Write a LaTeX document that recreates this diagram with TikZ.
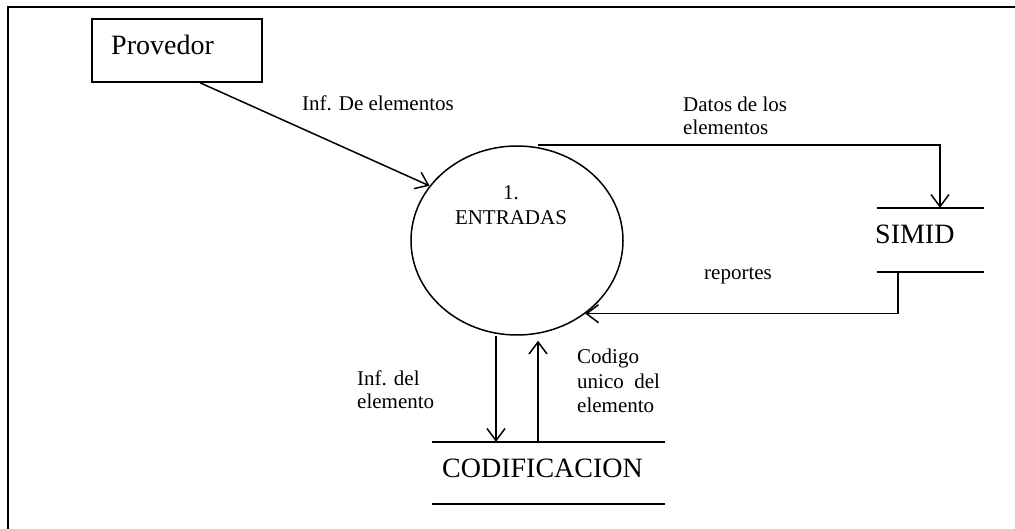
\documentclass[tikz,border=0pt]{standalone}
\usepackage{fontspec}
\setmainfont{Liberation Serif}
\usetikzlibrary{arrows.meta,shapes.geometric}

\newcommand{\varrx}{106}
\newcommand{\varry}{94.5}
\newcommand{\varlw}{1.5pt}

\tikzset{
	flujo/.style={line width=\varlw, -{Straight Barb[length=12pt,width=18pt]}},
	linea/.style={line width=\varlw},
	txt/.style={inner sep=0pt, align=left, font=\fontsize{21}{22.5}\selectfont},
	big/.style={inner sep=0pt, font=\fontsize{28}{30}\selectfont},
	externa/.style={draw, line width=\varlw, inner sep=0pt, minimum width=170pt, minimum height=63pt},
	proceso/.style={draw, ellipse, line width=\varlw, inner sep=0pt, minimum width=2*\varrx pt, minimum height=2*\varry pt},
	almacen/.style={inner sep=0pt}
}

\begin{document}
\begin{tikzpicture}[x=1pt, y=-1pt]

	\useasboundingbox (0,0) rectangle (1015,529);

	% frame
	\draw [line width=2pt] (8,540) -- (8,7) -- (1030,7);

	% entities
	\node [externa] (prov) at (177,50.5) {};
	\node [big, anchor=base west] (provtxt) at (111,55) {Provedor};

	\node [proceso] (entr) at (517,240.5) {};
	\node [txt, align=center, anchor=north, font=\fontsize{21}{25}\selectfont] (entrtxt) at (511,185) {1.\\ENTRADAS};

	\node [almacen, minimum width=107pt, minimum height=64pt] (simid) at (930.5,240) {};
	\node [big, anchor=base west] (simidtxt) at (875,244) {SIMID};

	\node [almacen, minimum width=233pt, minimum height=62pt] (codif) at (548.5,473) {};
	\node [big, anchor=base west] (codiftxt) at (442,477) {CODIFICACION};

	% stores
	\draw [linea] (simid.north west) -- (simid.north east);
	\draw [linea] (simid.south west) -- (simid.south east);
	\draw [linea] (codif.north west) -- (codif.north east);
	\draw [linea] (codif.south west) -- (codif.south east);

	% flows
	\draw [flujo] ([xshift=23pt]prov.south) -- (entr.148);
	\draw [flujo] ([xshift=21pt]entr.north) -| ([xshift=9.5pt]simid.north);
	\draw [flujo] ([xshift=-32.5pt]simid.south) |- (entr.-47.8);
	\draw [flujo] ([xshift=-21pt]entr.south) -- ([xshift=-52.5pt]codif.north);
	\draw [flujo] ([xshift=-10.5pt]codif.north) -- ([xshift=21pt,yshift=-5pt]entr.south);

	% labels
	\node [txt, anchor=base west] (lbinf) at (302,111) {Inf. De elementos};
	\node [txt, anchor=north west] (lbdatos) at (683,97) {Datos de los\\elementos};
	\node [txt, anchor=base] (lbrep) at (738,280) {reportes};
	\node [txt, anchor=north west] (lbdel) at (357,371) {Inf. del\\elemento};
	\node [txt, anchor=north west, font=\fontsize{21}{24.5}\selectfont] (lbcod) at (577,349) {Codigo\\unico\ \ del\\elemento};

\end{tikzpicture}
\end{document}
